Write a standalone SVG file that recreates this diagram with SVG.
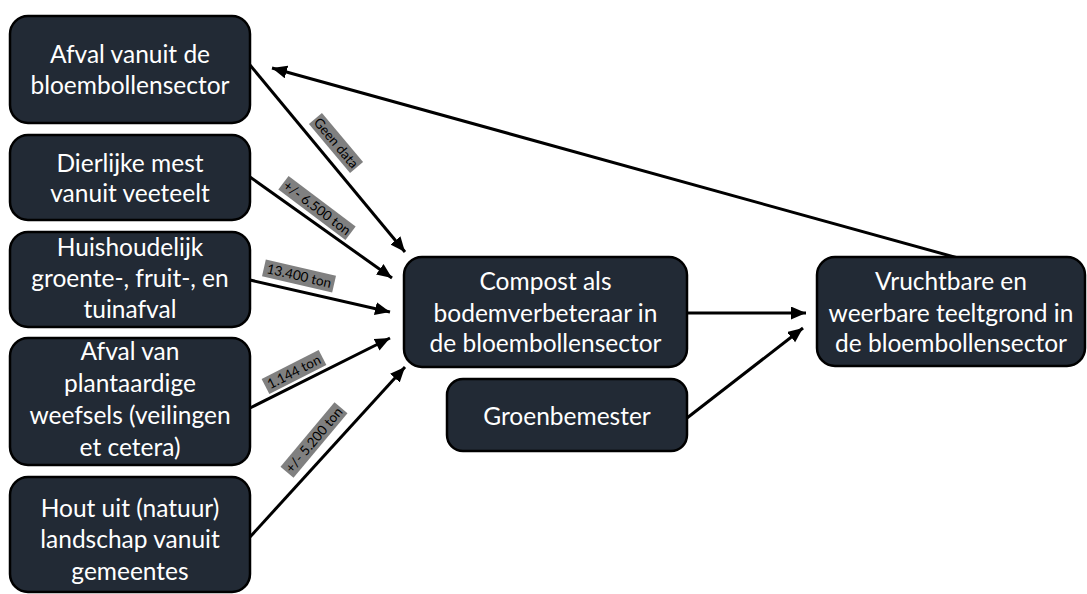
<svg xmlns="http://www.w3.org/2000/svg" width="1087" height="594" viewBox="0 0 1087 594">
<style>
.box{fill:#222a35;stroke:#000;stroke-width:2.5}
.t{font-family:Lato,"Open Sans",sans-serif;font-size:24.5px;fill:#fff;text-anchor:middle}
.c{stroke:#000;stroke-width:3;fill:none}
.lb{fill:#808080}
.lt{font-family:Lato,"Open Sans",sans-serif;font-size:13.5px;fill:#000;text-anchor:middle}
</style>
<defs>
<marker id="ah" markerUnits="userSpaceOnUse" markerWidth="16" markerHeight="14" refX="15" refY="6.5" orient="auto">
<path d="M0,0 L15,6.5 L0,13 z" fill="#000"/>
</marker>
</defs>
<rect width="1087" height="594" fill="#fff"/>
<g id="connectors">
<line class="c" x1="250" y1="65" x2="405" y2="252" marker-end="url(#ah)"/>
<line class="c" x1="250" y1="177" x2="392" y2="278" marker-end="url(#ah)"/>
<line class="c" x1="250" y1="280" x2="390" y2="312" marker-end="url(#ah)"/>
<line class="c" x1="250" y1="408" x2="390" y2="338" marker-end="url(#ah)"/>
<line class="c" x1="250" y1="537" x2="405" y2="367" marker-end="url(#ah)"/>
<line class="c" x1="687" y1="313" x2="806" y2="313" marker-end="url(#ah)"/>
<line class="c" x1="687" y1="418" x2="803" y2="328" marker-end="url(#ah)"/>
<line class="c" x1="958" y1="258" x2="272" y2="68" marker-end="url(#ah)"/>
<g transform="translate(336,143) rotate(50)"><rect class="lb" x="-32" y="-8.5" width="64" height="17"/><text class="lt" x="0" y="4.6">Geen data</text></g>
<g transform="translate(317,208) rotate(37)"><rect class="lb" x="-42" y="-8.5" width="84" height="17"/><text class="lt" x="0" y="4.6">+/- 6.500 ton</text></g>
<g transform="translate(299,276) rotate(13)"><rect class="lb" x="-36" y="-8.5" width="72" height="17"/><text class="lt" x="0" y="4.6">13.400 ton</text></g>
<g transform="translate(294,372) rotate(-27)"><rect class="lb" x="-32" y="-8.5" width="64" height="17"/><text class="lt" x="0" y="4.6">1.144 ton</text></g>
<g transform="translate(314,440) rotate(-50)"><rect class="lb" x="-42" y="-8.5" width="84" height="17"/><text class="lt" x="0" y="4.6">+/- 5.200 ton</text></g>
</g>
<g id="n1"><rect class="box" x="10" y="16" width="240" height="107" rx="18"/><text class="t" x="130" y="63">Afval vanuit de</text><text class="t" x="130" y="94">bloembollensector</text></g>
<g id="n2"><rect class="box" x="10" y="135" width="240" height="85" rx="18"/><text class="t" x="130" y="172">Dierlijke mest</text><text class="t" x="130" y="202">vanuit veeteelt</text></g>
<g id="n3"><rect class="box" x="10" y="232" width="240" height="95" rx="18"/><text class="t" x="130" y="256">Huishoudelijk</text><text class="t" x="130" y="287">groente-, fruit-, en</text><text class="t" x="130" y="318">tuinafval</text></g>
<g id="n4"><rect class="box" x="10" y="338" width="240" height="127" rx="18"/><text class="t" x="130" y="360">Afval van</text><text class="t" x="130" y="392">plantaardige</text><text class="t" x="130" y="424">weefsels (veilingen</text><text class="t" x="130" y="456">et cetera)</text></g>
<g id="n5"><rect class="box" x="10" y="477" width="240" height="115" rx="18"/><text class="t" x="130" y="517">Hout uit (natuur)</text><text class="t" x="130" y="548">landschap vanuit</text><text class="t" x="130" y="580">gemeentes</text></g>
<g id="n6"><rect class="box" x="404" y="257" width="283" height="110" rx="18"/><text class="t" x="545.5" y="290">Compost als</text><text class="t" x="545.5" y="322">bodemverbeteraar in</text><text class="t" x="545.5" y="352">de bloembollensector</text></g>
<g id="n7"><rect class="box" x="447" y="379" width="240" height="72" rx="16"/><text class="t" x="567" y="425">Groenbemester</text></g>
<g id="n8"><rect class="box" x="817" y="257" width="268" height="109" rx="18"/><text class="t" x="951" y="290">Vruchtbare en</text><text class="t" x="951" y="322">weerbare teeltgrond in</text><text class="t" x="951" y="352">de bloembollensector</text></g>
</svg>
